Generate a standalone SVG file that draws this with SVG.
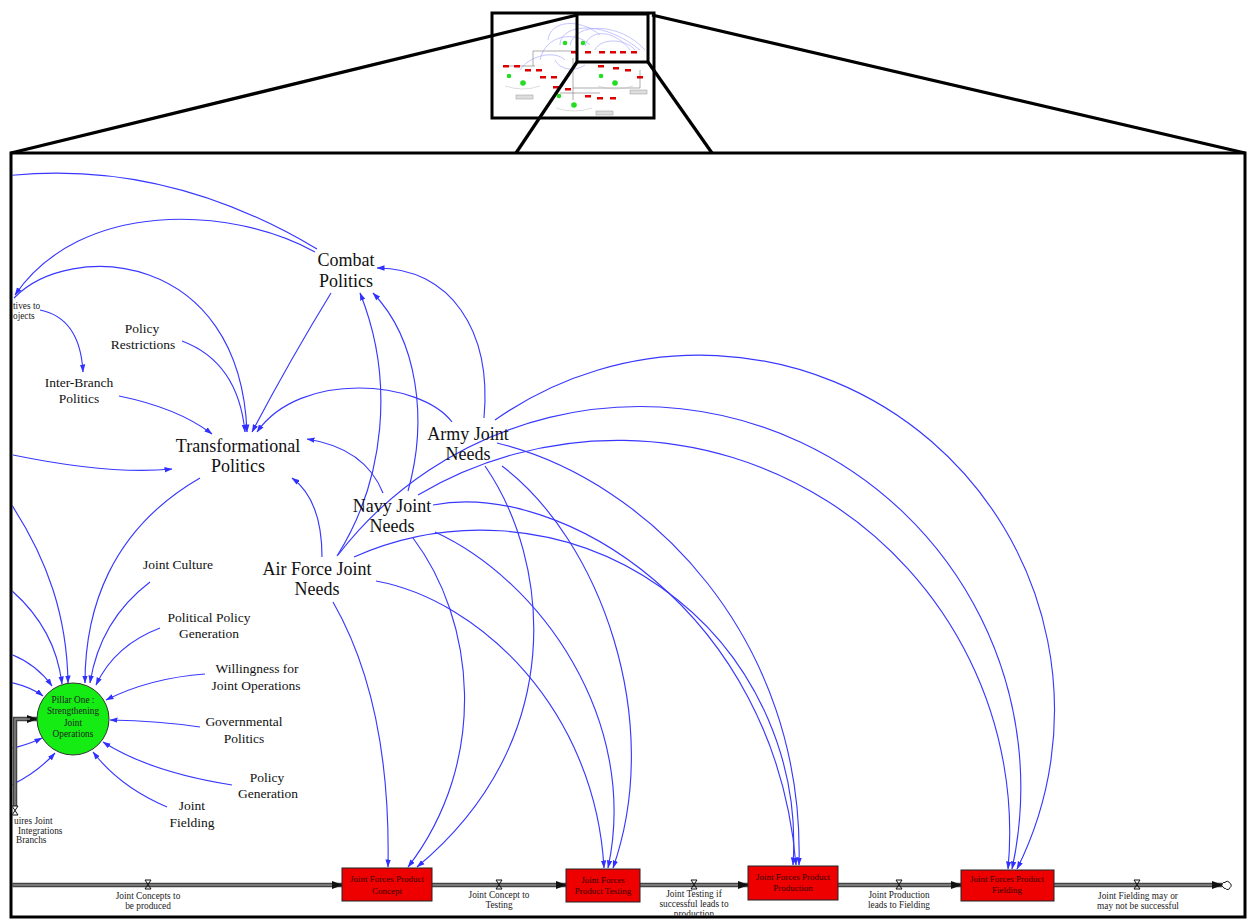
<svg xmlns="http://www.w3.org/2000/svg" width="1248" height="919" viewBox="0 0 1248 919">
  <style>
    .ln { fill: none; stroke: #3838ff; stroke-width: 1.15; marker-end: url(#ab); }
    .lo { fill: none; stroke: #3838ff; stroke-width: 1.15; }
    .big { font-family: "Liberation Serif", "Times New Roman", serif; font-size: 18px; fill: #111; text-anchor: middle; }
    .mid { font-family: "Liberation Serif", "Times New Roman", serif; font-size: 13.5px; fill: #111; text-anchor: middle; }
    .sm { font-family: "Liberation Serif", "Times New Roman", serif; font-size: 9.3px; fill: #222; text-anchor: middle; }
    .sml { font-family: "Liberation Serif", "Times New Roman", serif; font-size: 9.3px; fill: #222; }
    .box { fill: #ee0000; stroke: #222; stroke-width: 1; }
    .bt { font-family: "Liberation Serif", "Times New Roman", serif; font-size: 9px; fill: #300; text-anchor: middle; }
    .pipe { fill: none; stroke: #444; stroke-width: 4.5; }
    .pipein { fill: none; stroke: #8a8a8a; stroke-width: 1.4; }
    .valve { fill: none; stroke: #111; stroke-width: 1; }
    .frame { fill: none; stroke: #000; stroke-width: 3; }
    .mg { stroke: #000; stroke-width: 3.2; }
  </style>
  <defs>
    <marker id="ab" markerUnits="userSpaceOnUse" markerWidth="8" markerHeight="6" refX="7.5" refY="3" orient="auto">
      <path d="M0,0.3 L8,3 L0,5.7 z" fill="#3030ff"/>
    </marker>
    <marker id="af" markerUnits="userSpaceOnUse" markerWidth="11" markerHeight="8" refX="10" refY="4" orient="auto">
      <path d="M0,0 L11,4 L0,8 z" fill="#111"/>
    </marker>
    <clipPath id="inside">
      <rect x="12.5" y="154.5" width="1231" height="761"/>
    </clipPath>
  </defs>

  <rect width="1248" height="919" fill="#fff"/>

  <!-- overview thumbnail of the whole model -->
  <g id="overview">
    <rect x="492" y="13" width="162" height="105" fill="#fff"/>
    <g fill="none" stroke="#9a9aff" stroke-width="0.7" opacity="0.8">
      <path d="M560,45 C560,25 600,18 640,50"/>
      <path d="M570,45 C575,22 620,22 645,50"/>
      <path d="M585,46 C590,28 615,30 630,50"/>
      <path d="M548,40 C550,20 580,18 600,35"/>
      <path d="M540,60 C545,35 575,30 590,45"/>
      <path d="M595,50 C600,38 625,38 635,50"/>
      <path d="M520,70 C530,55 555,50 565,60"/>
      <path d="M555,60 C560,70 575,72 585,65"/>
    </g>
    <g fill="none" stroke="#777" stroke-width="0.6">
      <path d="M533,66 V51 H578"/>
      <path d="M573,58 V88 H640 V70"/>
      <path d="M505,66 H535"/>
      <path d="M573,88 V100"/>
      <path d="M560,93 H600"/>
    </g>
    <g fill="#dd0000">
      <rect x="571" y="51" width="6" height="2.5"/>
      <rect x="585" y="51" width="6" height="2.5"/>
      <rect x="599" y="51" width="6" height="2.5"/>
      <rect x="610" y="51" width="6" height="2.5"/>
      <rect x="620" y="51" width="6" height="2.5"/>
      <rect x="631" y="51" width="6" height="2.5"/>
      <rect x="503" y="65" width="6" height="2.5"/>
      <rect x="514" y="65" width="6" height="2.5"/>
      <rect x="525" y="69" width="6" height="2.5"/>
      <rect x="536" y="69" width="6" height="2.5"/>
      <rect x="540" y="76" width="6" height="2.5"/>
      <rect x="551" y="76" width="6" height="2.5"/>
      <rect x="598" y="65" width="6" height="2.5"/>
      <rect x="613" y="67" width="6" height="2.5"/>
      <rect x="625" y="69" width="6" height="2.5"/>
      <rect x="637" y="76" width="6" height="2.5"/>
      <rect x="553" y="86" width="6" height="2.5"/>
      <rect x="565" y="88" width="6" height="2.5"/>
      <rect x="585" y="95" width="6" height="2.5"/>
      <rect x="597" y="97" width="6" height="2.5"/>
      <rect x="610" y="97" width="6" height="2.5"/>
    </g>
    <g fill="#22dd22">
      <circle cx="565" cy="43" r="2.3"/>
      <circle cx="583" cy="43" r="2.3"/>
      <circle cx="509" cy="76" r="2.3"/>
      <circle cx="523" cy="83" r="2.8"/>
      <circle cx="601" cy="76" r="2.3"/>
      <circle cx="615" cy="83" r="2.8"/>
      <circle cx="559" cy="96" r="2.3"/>
      <circle cx="574" cy="105" r="2.8"/>
    </g>
    <g fill="none" stroke="#bbb" stroke-width="0.5">
      <path d="M505,86 Q523,92 540,86"/>
      <path d="M598,86 Q615,92 633,86"/>
      <path d="M556,108 Q574,114 592,108"/>
    </g>
    <g fill="#ddd" stroke="#999" stroke-width="0.5">
      <rect x="516" y="95" width="17" height="4"/>
      <rect x="630" y="90" width="17" height="4"/>
      <rect x="596" y="111" width="17" height="4"/>
    </g>
    <rect x="492" y="13" width="162" height="105" class="frame"/>
    <rect x="577" y="14" width="71" height="48" class="frame"/>
  </g>

  <!-- magnifier lines -->
  <g id="magnifier">
    <line class="mg" x1="11" y1="153" x2="577" y2="15"/>
    <line class="mg" x1="1245" y1="153" x2="652" y2="15"/>
    <line class="mg" x1="516" y1="153" x2="577" y2="62"/>
    <line class="mg" x1="712" y1="153" x2="648" y2="62"/>
  </g>

  <g clip-path="url(#inside)">
    <!-- information links -->
    <g id="links">
      <!-- into Transformational Politics -->
      <path class="ln" d="M331,293 Q290,360 252,432"/>
      <path class="ln" d="M182,341 Q238,362 245,432"/>
      <path class="ln" d="M119,396 Q178,408 212,434"/>
      <path class="ln" d="M14,298 C70,240 240,250 247,432"/>
      <path class="ln" d="M452,422 C420,380 300,370 257,432"/>
      <path class="ln" d="M383,493 Q365,448 307,439"/>
      <path class="ln" d="M322,557 Q322,500 292,478"/>
      <path class="ln" d="M13,455 Q110,475 172,469"/>
      <!-- into Combat Politics -->
      <path class="ln" d="M484,418 C492,330 450,268 377,268"/>
      <path class="ln" d="M408,491 C428,420 418,340 373,293"/>
      <path class="ln" d="M337,556 C385,480 395,380 360,293"/>
      <!-- out of Combat Politics -->
      <path class="lo" d="M317,249 C260,215 150,160 5,176"/>
      <path class="ln" d="M315,252 C230,205 80,200 15,295"/>
      <path class="ln" d="M40,310 Q80,318 83,372"/>
      <!-- into Pillar One -->
      <path class="ln" d="M200,478 C110,530 85,610 85,683"/>
      <path class="ln" d="M150,582 Q100,620 90,683"/>
      <path class="ln" d="M160,628 Q115,645 96,685"/>
      <path class="ln" d="M205,674 Q150,678 106,700"/>
      <path class="ln" d="M200,727 Q160,721 110,720"/>
      <path class="ln" d="M232,785 Q150,772 103,742"/>
      <path class="ln" d="M167,807 Q120,787 93,752"/>
      <path class="ln" d="M5,495 C50,560 67,620 68,683"/>
      <path class="ln" d="M5,585 Q55,625 62,684"/>
      <path class="ln" d="M5,652 Q35,662 52,686"/>
      <path class="ln" d="M5,681 Q30,686 43,696"/>
      <path class="ln" d="M5,750 Q28,745 42,738"/>
      <path class="ln" d="M5,788 Q35,775 55,753"/>
      <!-- into Joint Forces Product Concept -->
      <path class="ln" d="M333,602 C372,670 390,760 388,867"/>
      <path class="ln" d="M413,538 C475,620 490,760 408,867"/>
      <path class="ln" d="M485,466 C550,560 570,740 417,867"/>
      <!-- into Joint Forces Product Testing -->
      <path class="ln" d="M376,581 C480,600 595,710 604,868"/>
      <path class="ln" d="M435,532 C540,580 640,720 608,868"/>
      <path class="ln" d="M502,466 C600,540 665,720 613,868"/>
      <!-- into Joint Forces Product Production -->
      <path class="ln" d="M354,557 A313,313 0 0 1 793,865"/>
      <path class="ln" d="M433,505 C560,480 775,610 796,865"/>
      <path class="ln" d="M497,443 C650,480 805,640 799,865"/>
      <!-- into Joint Forces Product Fielding -->
      <path class="ln" d="M338,555 A381,381 0 0 1 1012,869"/>
      <path class="ln" d="M418,495 A392,392 0 0 1 1008,869"/>
      <path class="ln" d="M495,420 A355,355 0 0 1 1017,869"/>
    </g>

    <!-- material flows -->
    <g id="flows">
      <path class="pipe" d="M15,806 V719 H37" marker-end="url(#af)"/>
      <path class="pipein" d="M15,806 V719 H30"/>
      <path class="pipe" d="M5,885 H342" marker-end="url(#af)"/>
      <path class="pipein" d="M5,885 H332"/>
      <path class="pipe" d="M432,885 H566" marker-end="url(#af)"/>
      <path class="pipein" d="M432,885 H556"/>
      <path class="pipe" d="M640,885 H748" marker-end="url(#af)"/>
      <path class="pipein" d="M640,885 H738"/>
      <path class="pipe" d="M838,885 H961" marker-end="url(#af)"/>
      <path class="pipein" d="M838,885 H951"/>
      <path class="pipe" d="M1054,885 H1222" marker-end="url(#af)"/>
      <path class="pipein" d="M1054,885 H1212"/>
      <path d="M1223,887 a2.5,2.5 0 0 1 2,-4.5 a2.5,2.5 0 0 1 4.5,0.5 a2.5,2.5 0 0 1 0.5,4.5 a2.5,2.5 0 0 1 -4.5,1 a2.5,2.5 0 0 1 -2.5,-1.5 z" fill="#fff" stroke="#111" stroke-width="1"/>
      <!-- valves -->
      <path class="valve" d="M12,806 h6 M12,815 h6 M12,806 L18,815 M18,806 L12,815"/>
      <path class="valve" d="M145,880 h6 M145,889 h6 M145,880 L151,889 M151,880 L145,889"/>
      <path class="valve" d="M496,880 h6 M496,889 h6 M496,880 L502,889 M502,880 L496,889"/>
      <path class="valve" d="M691,880 h6 M691,889 h6 M691,880 L697,889 M697,880 L691,889"/>
      <path class="valve" d="M896,880 h6 M896,889 h6 M896,880 L902,889 M902,880 L896,889"/>
      <path class="valve" d="M1134,880 h6 M1134,889 h6 M1134,880 L1140,889 M1140,880 L1134,889"/>
      <text class="sml" x="14" y="824">uires Joint</text>
      <text class="sml" x="18" y="834">Integrations</text>
      <text class="sml" x="16" y="843">Branchs</text>
      <text class="sm" x="148" y="899">Joint Concepts to</text>
      <text class="sm" x="148" y="909">be produced</text>
      <text class="sm" x="499" y="898">Joint Concept to</text>
      <text class="sm" x="499" y="908">Testing</text>
      <text class="sm" x="694" y="897">Joint Testing if</text>
      <text class="sm" x="694" y="907">successful leads to</text>
      <text class="sm" x="694" y="917">production</text>
      <text class="sm" x="899" y="898">Joint Production</text>
      <text class="sm" x="899" y="908">leads to Fielding</text>
      <text class="sm" x="1138" y="899">Joint Fielding may or</text>
      <text class="sm" x="1138" y="909">may not be successful</text>
    </g>

    <!-- nodes -->
    <g id="n-combat"><text class="big" x="346" y="266">Combat</text><text class="big" x="346" y="287">Politics</text></g>
    <g id="n-transformational"><text class="big" x="238" y="452">Transformational</text><text class="big" x="238" y="472">Politics</text></g>
    <g id="n-army"><text class="big" x="468" y="440">Army Joint</text><text class="big" x="468" y="460">Needs</text></g>
    <g id="n-navy"><text class="big" x="392" y="512">Navy Joint</text><text class="big" x="392" y="532">Needs</text></g>
    <g id="n-airforce"><text class="big" x="317" y="575">Air Force Joint</text><text class="big" x="317" y="595">Needs</text></g>
    <g id="n-incentives"><text class="sml" x="13" y="309">tives to</text><text class="sml" x="13" y="319">ojects</text></g>
    <g id="n-policy-restrictions"><text class="mid" x="142" y="333">Policy</text><text class="mid" x="143" y="349">Restrictions</text></g>
    <g id="n-inter-branch"><text class="mid" x="79" y="387">Inter-Branch</text><text class="mid" x="79" y="403">Politics</text></g>
    <g id="n-joint-culture"><text class="mid" x="178" y="569">Joint Culture</text></g>
    <g id="n-political-policy"><text class="mid" x="209" y="622">Political Policy</text><text class="mid" x="209" y="638">Generation</text></g>
    <g id="n-willingness"><text class="mid" x="257" y="673">Willingness for</text><text class="mid" x="256" y="690">Joint Operations</text></g>
    <g id="n-governmental"><text class="mid" x="244" y="726">Governmental</text><text class="mid" x="244" y="743">Politics</text></g>
    <g id="n-policy-generation"><text class="mid" x="267" y="782">Policy</text><text class="mid" x="268" y="798">Generation</text></g>
    <g id="n-joint-fielding"><text class="mid" x="192" y="810">Joint</text><text class="mid" x="192" y="827">Fielding</text></g>

    <g id="n-pillar-one">
      <circle cx="73" cy="719" r="36" fill="#14ec14" stroke="#333" stroke-width="1"/>
      <text class="sm" x="73" y="703" font-size="9px">Pillar One :</text>
      <text class="sm" x="73" y="714" font-size="9px">Strengthening</text>
      <text class="sm" x="73" y="726" font-size="9px">Joint</text>
      <text class="sm" x="73" y="737" font-size="9px">Operations</text>
    </g>

    <g id="n-concept">
      <rect class="box" x="342" y="868" width="90" height="33"/>
      <text class="bt" x="387" y="882">Joint Forces Product</text>
      <text class="bt" x="387" y="894">Concept</text>
    </g>
    <g id="n-testing">
      <rect class="box" x="566" y="869" width="74" height="33"/>
      <text class="bt" x="603" y="883">Joint Forces</text>
      <text class="bt" x="603" y="894">Product Testing</text>
    </g>
    <g id="n-production">
      <rect class="box" x="748" y="866" width="90" height="34"/>
      <text class="bt" x="793" y="880">Joint Forces Product</text>
      <text class="bt" x="793" y="891">Production</text>
    </g>
    <g id="n-fielding">
      <rect class="box" x="961" y="870" width="93" height="31"/>
      <text class="bt" x="1007" y="882">Joint Forces Product</text>
      <text class="bt" x="1007" y="893">Fielding</text>
    </g>
  </g>

  <rect class="frame" x="11" y="153" width="1234" height="764"/>
</svg>
